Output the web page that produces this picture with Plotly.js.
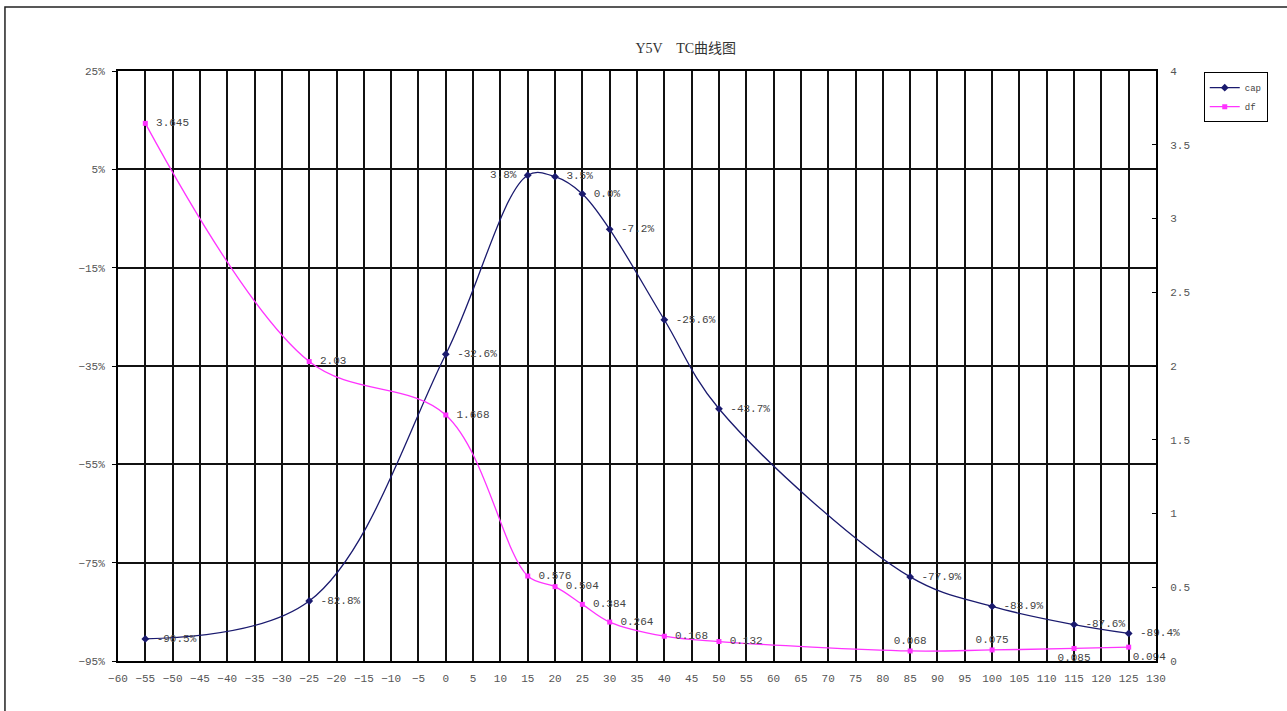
<!DOCTYPE html>
<html>
<head>
<meta charset="utf-8">
<script src="https://cdn.plot.ly/plotly-3.0.1.min.js"></script>
<style>
html,body{margin:0;padding:0;background:#fff;}
#chart{width:1287px;height:711px;}
</style>
</head>
<body>
<div id="chart"></div>
<script>
// Data
var temps = [-55, -25, 0, 15, 20, 25, 30, 40, 50, 85, 100, 115, 125];
var capValues = [-90.5, -82.8, -32.6, 3.8, 3.5, 0.0, -7.2, -25.6, -43.7, -77.9, -83.9, -87.6, -89.4];
var dfValues = [3.645, 2.03, 1.668, 0.576, 0.504, 0.384, 0.264, 0.168, 0.132, 0.068, 0.075, 0.085, 0.094];
var capLabels = capValues.map(function(v){ return v.toFixed(1) + '%'; });
var dfLabels = dfValues.map(function(v){ return String(v); });
var xTickVals = [];
for (var t = -60; t <= 130; t += 5) xTickVals.push(t);

var pad = '\u00a0';
var capPos = temps.map(function(t){ return t === 15 ? 'middle left' : 'middle right'; });
var capText = capLabels.map(function(s, i){ return temps[i] === 15 ? s + pad : pad + s; });
var dfPos = temps.map(function(t){
  if (t === 85 || t === 100) return 'top center';
  if (t === 115) return 'bottom center';
  if (t === 125) return 'bottom right';
  return 'middle right';
});
var dfText = dfLabels.map(function(s, i){
  return dfPos[i] === 'middle right' ? pad + s : s;
});

var labelFont = {family: 'Liberation Mono, DejaVu Sans Mono, monospace', size: 11, color: '#444'};

var capTrace = {
  x: temps, y: capValues, name: 'cap', type: 'scatter', mode: 'lines+markers+text',
  line: {color: '#1a1a6e', width: 1.3, shape: 'spline', smoothing: 1},
  marker: {color: '#1a1a6e', symbol: 'diamond', size: 6},
  text: capText, textposition: capPos, textfont: labelFont,
  cliponaxis: false, yaxis: 'y'
};
var dfTrace = {
  x: temps, y: dfValues, name: 'df', type: 'scatter', mode: 'lines+markers+text',
  line: {color: '#ff33ff', width: 1.3, shape: 'spline', smoothing: 1},
  marker: {color: '#ff33ff', symbol: 'square', size: 5},
  text: dfText, textposition: dfPos, textfont: labelFont,
  cliponaxis: false, yaxis: 'y2'
};

var tickFont = {family: 'Liberation Mono, DejaVu Sans Mono, monospace', size: 11, color: '#555'};

var layout = {
  width: 1287, height: 711,
  margin: {l: 118, r: 131, t: 71, b: 50},
  paper_bgcolor: '#fff', plot_bgcolor: '#fff',
  showlegend: true,
  title: {
    text: 'Y5V    TC曲线图',
    x: 0.547, xref: 'paper', xanchor: 'center',
    y: 0.932, yanchor: 'middle',
    font: {family: 'Liberation Serif, Noto Sans CJK SC, serif', size: 14, color: '#333'}
  },
  legend: {
    x: 1.046, y: 0.998, xanchor: 'left', yanchor: 'top',
    bordercolor: '#000', borderwidth: 1, bgcolor: '#fff',
    font: {family: 'Liberation Mono, monospace', size: 9, color: '#444'},
    tracegroupgap: 0, itemwidth: 30
  },
  xaxis: {
    range: [-60, 130], tickmode: 'array', tickvals: xTickVals,
    showgrid: true, gridcolor: '#111', gridwidth: 2,
    zeroline: false, showline: true, linecolor: '#000', linewidth: 2, mirror: true,
    ticks: '', tickfont: tickFont, ticklabelstandoff: 6, fixedrange: true
  },
  yaxis: {
    range: [-95, 25], tick0: 25, dtick: 20, ticksuffix: '%',
    showgrid: true, gridcolor: '#111', gridwidth: 2,
    zeroline: false, showline: true, linecolor: '#000', linewidth: 2,
    ticks: 'outside', ticklen: 4, tickcolor: '#000',
    tickfont: tickFont, ticklabelstandoff: 5, fixedrange: true
  },
  yaxis2: {
    range: [0, 4], tick0: 0, dtick: 0.5, overlaying: 'y', side: 'right',
    showgrid: false, zeroline: false, showline: true, linecolor: '#000', linewidth: 2,
    ticks: 'inside', ticklen: 4, tickcolor: '#000',
    tickfont: tickFont, ticklabelstandoff: 10, fixedrange: true
  },
  shapes: [{
    type: 'rect', xref: 'paper', yref: 'paper',
    x0: -0.1089, x1: 1.14, y0: -0.1, y1: 1.1085,
    line: {color: '#222', width: 1.5}, fillcolor: 'rgba(0,0,0,0)', layer: 'below'
  }]
};

Plotly.newPlot('chart', [capTrace, dfTrace], layout, {displayModeBar: false, staticPlot: true});
</script>
</body>
</html>
